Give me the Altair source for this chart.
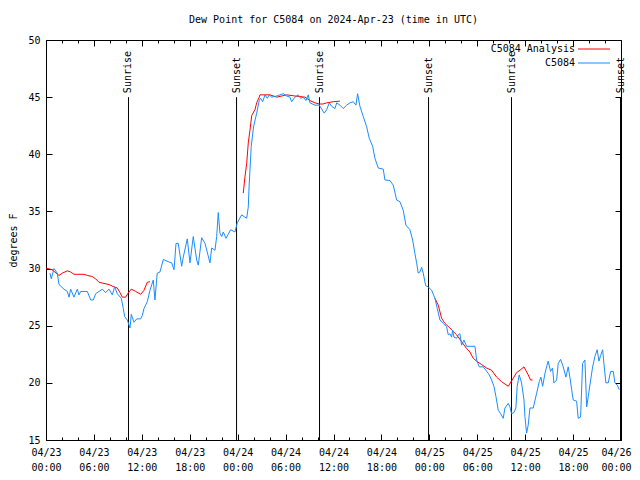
import altair as alt
import pandas as pd

FONT = "DejaVu Sans Mono"
BLUE = "#1a8cff"
RED = "#ff0000"

# hours since 2024-04-23 00:00 UTC
blue_h = [0.50, 0.66, 1.00, 1.41, 1.63, 2.25, 2.67, 2.88, 3.09, 3.50, 3.92, 4.13, 4.34, 5.17, 5.60,
          5.92, 6.22, 6.64, 7.05, 7.47, 7.89, 8.30, 8.60, 8.93, 9.43, 9.68, 9.85, 10.18, 10.52, 10.68,
          11.02, 11.36, 11.86, 12.06, 12.27, 12.68, 13.02, 13.43, 13.64, 13.93, 14.27, 14.69, 15.31,
          15.74, 16.03, 16.28, 16.56, 16.99, 17.19, 17.69, 18.03, 18.44, 18.87, 19.07, 19.49, 19.91,
          20.53, 20.75, 21.16, 21.37, 21.57, 21.78, 22.00, 22.20, 22.54, 22.82, 23.12, 23.66, 23.95,
          24.50, 24.91, 25.13, 25.33, 25.43, 25.70, 25.99, 26.38, 26.70, 26.88, 27.13, 27.42, 27.71,
          27.96, 28.26, 28.88, 29.30, 29.71, 30.14, 30.55, 30.76, 31.17, 31.59, 31.89, 32.21, 32.55,
          32.84, 33.05, 33.68, 34.22, 34.84, 35.14, 35.47, 35.77, 36.18, 36.40, 36.81, 37.22, 37.65,
          38.06, 38.47, 38.81, 39.02, 39.31, 39.73, 40.15, 40.48, 40.90, 41.19, 41.60, 42.23, 42.44,
          43.07, 43.48, 43.91, 44.32, 44.73, 45.07, 45.57, 45.91, 46.20, 46.41, 46.61, 46.82, 47.04,
          47.24, 47.54, 47.86, 48.29, 48.70, 49.00, 49.33, 49.74, 50.17, 50.37, 50.58, 50.79, 50.92,
          51.08, 51.42, 51.62, 51.83, 52.04, 52.33, 52.67, 53.71, 53.92, 54.25, 54.75, 55.09, 55.50,
          55.80, 56.09, 56.34, 56.63, 56.93, 57.25, 57.47, 57.88, 58.09, 58.30, 58.59, 58.84, 59.00,
          59.25, 59.55, 59.85, 59.97, 60.18, 60.38, 60.60, 61.01, 61.44, 61.76, 61.97, 62.19, 62.47,
          62.68, 62.88, 63.18, 63.43, 63.60, 63.94, 64.14, 64.44, 64.77, 65.10, 65.39, 65.60, 65.82,
          66.02, 66.44, 66.64, 66.94, 67.19, 67.48, 67.70, 67.90, 68.20, 68.45, 68.73, 69.02, 69.24,
          69.45, 69.70, 69.86, 70.11, 70.40, 70.70, 71.03, 71.24, 71.53, 71.78]
blue_v = [29.6, 29.1, 30.0, 29.6, 28.6, 28.2, 28.0, 27.5, 28.2, 27.5, 28.2, 27.7, 28.0, 28.0, 27.25,
          27.25, 27.8, 28.0, 28.2, 27.9, 28.2, 27.7, 28.4, 27.8, 27.4, 26.5, 25.8, 25.5, 24.8, 26.0,
          25.3, 25.6, 25.6, 25.9, 26.5, 27.1, 28.1, 29.0, 27.25, 29.6, 29.7, 30.8, 30.6,
          30.5, 29.9, 32.2, 32.2, 30.2, 31.0, 32.6, 30.5, 32.8, 30.75, 30.3, 32.7, 32.2,
          30.5, 31.8, 31.6, 32.8, 34.9, 33.1, 32.8, 33.2, 32.65, 33.0, 33.4, 33.2, 34.0,
          34.7, 34.5, 34.4, 35.4, 37.2, 40.7, 42.4, 43.6, 44.7, 44.9, 44.6, 45.2, 44.9,
          45.2, 45.0, 45.1, 45.2, 45.3, 45.1, 45.0, 44.6, 45.0, 45.2, 44.9, 45.0, 44.7,
          45.2, 44.5, 44.3, 44.3, 43.6, 43.9, 44.5, 44.2, 44.0, 44.5, 44.3, 44.0, 44.3,
          44.5, 44.6, 44.3, 45.3, 44.2, 43.3, 42.4, 41.4, 40.7, 39.65, 38.8, 38.7, 37.75,
          37.7, 37.3, 36.0, 35.85, 35.1, 33.8, 33.4, 32.5, 31.3, 30.5, 29.6, 29.7, 30.1,
          29.6, 28.5, 28.4, 28.1, 27.4, 26.5, 25.5, 25.2, 24.9, 24.2, 24.3, 24.0, 24.6,
          24.0, 23.9, 24.2, 24.3, 23.3, 23.75, 23.2, 23.2, 22.0, 21.4, 21.4, 21.1, 20.7,
          20.25, 19.7, 18.8, 17.6, 17.3, 16.9, 17.8, 18.2, 17.9, 17.3, 17.4, 17.8, 19.7,
          20.7, 20.0, 18.5, 17.05, 15.6, 16.3, 17.8, 17.8, 19.1, 20.1, 20.5, 19.7, 20.8,
          21.4, 21.9, 21.0, 21.3, 20.0, 20.25, 21.7, 22.05, 21.4, 20.5, 21.4, 20.5, 19.4,
          18.5, 18.4, 16.9, 17.0, 21.7, 22.0, 17.9, 18.8, 20.25, 21.4, 22.3, 22.9, 21.9,
          22.4, 22.9, 21.7, 20.0, 20.0, 21.0, 21.0, 20.0, 19.8, 19.4]

red_h = [0.00, 0.75, 1.63, 2.04, 2.67, 3.09, 3.50, 4.76, 5.17, 5.80, 6.22, 6.64, 7.26, 7.89, 8.51,
         8.93, 9.26, 9.55, 9.98, 10.27, 10.68, 11.23, 11.86, 12.27, 12.68, 13.02,
         24.70, 24.91, 25.13, 25.33, 25.54, 25.76, 26.17, 26.38, 26.70, 26.79, 28.04, 28.88, 30.14,
         31.17, 32.42, 33.05, 33.68, 34.22, 34.68, 35.14, 35.97, 36.81,
         48.70, 49.12, 49.54, 49.95, 50.58, 50.99, 51.42, 52.04, 52.67, 53.08, 53.50, 53.92, 54.55,
         55.17, 55.80, 56.43, 57.05, 57.88, 58.50, 58.93, 59.34, 59.85, 60.38, 60.68, 60.93]
red_v = [30.05, 29.9, 29.4, 29.6, 29.8, 29.7, 29.5, 29.5, 29.4, 29.3, 29.1, 28.8, 28.7, 28.6, 28.4,
         28.3, 27.9, 27.5, 27.5, 27.85, 28.2, 28.0, 27.75, 28.1, 28.8, 28.85,
         36.6, 38.0, 39.2, 41.0, 42.1, 43.4, 43.9, 44.5, 45.0, 45.2, 45.2, 45.0, 45.2,
         45.1, 45.0, 44.7, 44.5, 44.4, 44.4, 44.5, 44.6, 44.65,
         27.4, 26.8, 25.65, 25.2, 24.8, 24.5, 24.2, 23.6, 23.0, 22.7, 22.15, 21.9, 21.6,
         21.3, 21.1, 20.5, 20.1, 19.7, 20.4, 20.9, 21.1, 21.4, 20.7, 20.25, 20.25]
red_seg = [1] * 26 + [2] * 22 + [3] * 25

sun_h = [10.33, 23.86, 34.25, 47.90, 58.29, 71.94]
sun_label = ["Sunrise", "Sunset", "Sunrise", "Sunset", "Sunrise", "Sunset"]

x_major = list(range(0, 73, 6))
x_minor = list(range(0, 73, 2))
y_major = list(range(15, 51, 5))

TITLE = "Dew Point for C5084 on 2024-Apr-23 (time in UTC)"
legend_labels = ["C5084 Analysis", "C5084"]

blue_df = pd.DataFrame({"h": blue_h, "v": blue_v})
red_df = pd.DataFrame({"h": red_h, "v": red_v, "seg": red_seg})
sun_df = pd.DataFrame({"h": sun_h, "label": sun_label, "top": 45.0, "bot": 15.0, "ty": 45.35})

xs = alt.Scale(domain=[0, 72], nice=False, zero=False)
ys = alt.Scale(domain=[15, 50], nice=False, zero=False)

common = dict(domain=False, grid=False, title=None, tickColor="black")

label_expr = ("['04/' + toString(23 + floor(datum.value / 24)), "
              "(datum.value % 24 < 10 ? '0' : '') + toString(datum.value % 24) + ':00']")

ax_bottom = alt.Axis(orient="bottom", values=x_major, tickSize=6, offset=-6, labelExpr=label_expr,
                     labelFont=FONT, labelFontSize=10, labelColor="black", labelPadding=7,
                     labelLineHeight=15, labelOverlap=False, labelFlush=False,
                     labelOffset={"condition": {"test": "datum.value >= 72", "value": -5}, "value": 0},
                     **common)
ax_top = alt.Axis(orient="top", values=x_major, tickSize=6, offset=-6, labels=False, **common)
ax_bottom_minor = alt.Axis(orient="bottom", values=x_minor, tickSize=3, offset=-3, labels=False, **common)
ax_top_minor = alt.Axis(orient="top", values=x_minor, tickSize=3, offset=-3, labels=False, **common)
ax_left = alt.Axis(orient="left", values=y_major, tickSize=6, offset=-6, domain=False, grid=False,
                   tickColor="black", labelFont=FONT, labelFontSize=10, labelColor="black",
                   labelPadding=6, title="degrees F", titleFont=FONT, titleFontSize=10,
                   titleFontWeight="normal", titleColor="black", titlePadding=9)
ax_right = alt.Axis(orient="right", values=y_major, tickSize=6, offset=-6, labels=False, **common)

blue_line = alt.Chart(blue_df).mark_line(color=BLUE, strokeWidth=1, interpolate="linear").encode(
    x=alt.X("h:Q", scale=xs, axis=ax_bottom),
    y=alt.Y("v:Q", scale=ys, axis=ax_left),
)
red_line = alt.Chart(red_df).mark_line(color=RED, strokeWidth=1).encode(
    x=alt.X("h:Q", scale=xs, axis=ax_top),
    y=alt.Y("v:Q", scale=ys, axis=ax_right),
    detail="seg:N",
)
sun_rules = alt.Chart(sun_df).mark_rule(color="black", strokeWidth=1).encode(
    x=alt.X("h:Q", scale=xs, axis=ax_bottom_minor),
    y=alt.Y("top:Q", scale=ys, axis=None),
    y2="bot:Q",
)
sun_text = alt.Chart(sun_df).mark_text(angle=270, align="left", baseline="middle", font=FONT,
                                       fontSize=10, color="black").encode(
    x=alt.X("h:Q", scale=xs, axis=ax_top_minor),
    y=alt.Y("ty:Q", scale=ys, axis=None),
    text="label:N",
)

one = pd.DataFrame({"a": [0]})
title_mark = alt.Chart(one).mark_text(text=TITLE, align="center", baseline="middle", font=FONT,
                                      fontSize=10, color="black").encode(
    x=alt.value(287.5), y=alt.value(-20))
leg_t1 = alt.Chart(one).mark_text(text=legend_labels[0], align="right", baseline="middle", font=FONT,
                                  fontSize=10, color="black").encode(x=alt.value(529), y=alt.value(9))
leg_t2 = alt.Chart(one).mark_text(text=legend_labels[1], align="right", baseline="middle", font=FONT,
                                  fontSize=10, color="black").encode(x=alt.value(529), y=alt.value(23))
leg_l1 = alt.Chart(one).mark_rule(color=RED, strokeWidth=1).encode(
    x=alt.value(532), x2=alt.value(564), y=alt.value(9))
leg_l2 = alt.Chart(one).mark_rule(color=BLUE, strokeWidth=1).encode(
    x=alt.value(532), x2=alt.value(564), y=alt.value(23))

chart = alt.layer(
    sun_rules, sun_text, red_line, blue_line, title_mark, leg_t1, leg_t2, leg_l1, leg_l2
).resolve_axis(x="independent", y="independent").properties(
    width=575, height=400,
    autosize=alt.AutoSizeParams(type="none"),
    padding={"left": 38, "top": 32, "right": 11, "bottom": 32},
    background="white",
).configure_view(stroke="black", strokeWidth=1)

chart.save("out.html", embed_options={"renderer": "svg", "actions": False})
